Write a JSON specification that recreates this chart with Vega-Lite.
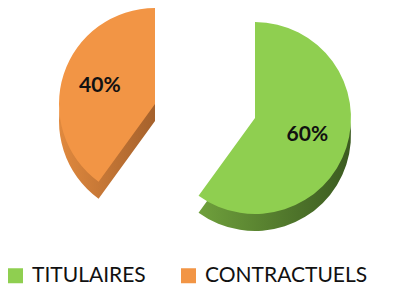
{
  "$schema": "https://vega.github.io/schema/vega-lite/v6.json",
  "width": 410,
  "height": 291,
  "autosize": {"type": "fit", "contains": "padding"},
  "background": "white",
  "config": {"view": {"stroke": null}, "font": "Lato"},
  "data": {"values": [
    {"cat": "TITULAIRES", "value": 60, "label": "60%"},
    {"cat": "CONTRACTUELS", "value": 40, "label": "40%"}
  ]},
  "transform": [
    {"stack": "value", "groupby": [], "sort": [{"field": "value", "order": "descending"}], "as": ["v0", "v1"]},
    {"calculate": "(datum.v0 + datum.v1) / 2", "as": "mid"}
  ],
  "layer": [
    {
      "transform": [{"filter": "datum.cat == 'CONTRACTUELS'"}],
      "mark": {"type": "arc", "radius": 96, "xOffset": -50, "yOffset": -5, "color": {"gradient": "linear", "x1": 0, "x2": 1, "y1": 0, "y2": 0, "stops": [{"offset": 0, "color": "#E0893E"}, {"offset": 1, "color": "#A5612C"}]}},
      "encoding": {"theta": {"field": "v0", "type": "quantitative", "scale": {"domain": [0, 100]}}, "theta2": {"field": "v1"}}
    },
    {
      "transform": [{"filter": "datum.cat == 'CONTRACTUELS'"}],
      "mark": {"type": "arc", "radius": 96, "xOffset": -50, "yOffset": -22},
      "encoding": {
        "theta": {"field": "v0", "type": "quantitative", "scale": {"domain": [0, 100]}},
        "theta2": {"field": "v1"},
        "color": {"field": "cat", "type": "nominal", "scale": {"domain": ["TITULAIRES", "CONTRACTUELS"], "range": ["#8FCF50", "#F29545"]},
          "legend": {"title": null, "orient": "bottom", "direction": "horizontal", "symbolType": "square", "symbolSize": 225, "labelFontSize": 21, "labelFont": "Lato", "labelColor": "#111111", "labelLimit": 400, "columnPadding": 32, "symbolStrokeWidth": 0, "labelOffset": 6}}
      }
    },
    {
      "transform": [{"filter": "datum.cat == 'CONTRACTUELS'"}],
      "mark": {"type": "text", "radius": 58, "xOffset": -50, "yOffset": -22, "fontSize": 21, "fontWeight": "bold", "color": "#111111"},
      "encoding": {"theta": {"field": "mid", "type": "quantitative", "scale": {"domain": [0, 100]}}, "text": {"field": "label"}}
    },
    {
      "transform": [{"filter": "datum.cat == 'TITULAIRES'"}],
      "mark": {"type": "arc", "radius": 96, "xOffset": 50, "yOffset": 9, "color": {"gradient": "linear", "x1": 0, "x2": 1, "y1": 0, "y2": 0, "stops": [{"offset": 0, "color": "#6FA03C"}, {"offset": 1, "color": "#3B5A20"}]}},
      "encoding": {"theta": {"field": "v0", "type": "quantitative", "scale": {"domain": [0, 100]}}, "theta2": {"field": "v1"}}
    },
    {
      "transform": [{"filter": "datum.cat == 'TITULAIRES'"}],
      "mark": {"type": "arc", "radius": 96, "xOffset": 50, "yOffset": -8},
      "encoding": {
        "theta": {"field": "v0", "type": "quantitative", "scale": {"domain": [0, 100]}},
        "theta2": {"field": "v1"},
        "color": {"field": "cat", "type": "nominal"}
      }
    },
    {
      "transform": [{"filter": "datum.cat == 'TITULAIRES'"}],
      "mark": {"type": "text", "radius": 55, "xOffset": 50, "yOffset": -8, "fontSize": 21, "fontWeight": "bold", "color": "#111111"},
      "encoding": {"theta": {"field": "mid", "type": "quantitative", "scale": {"domain": [0, 100]}}, "text": {"field": "label"}}
    }
  ]
}
